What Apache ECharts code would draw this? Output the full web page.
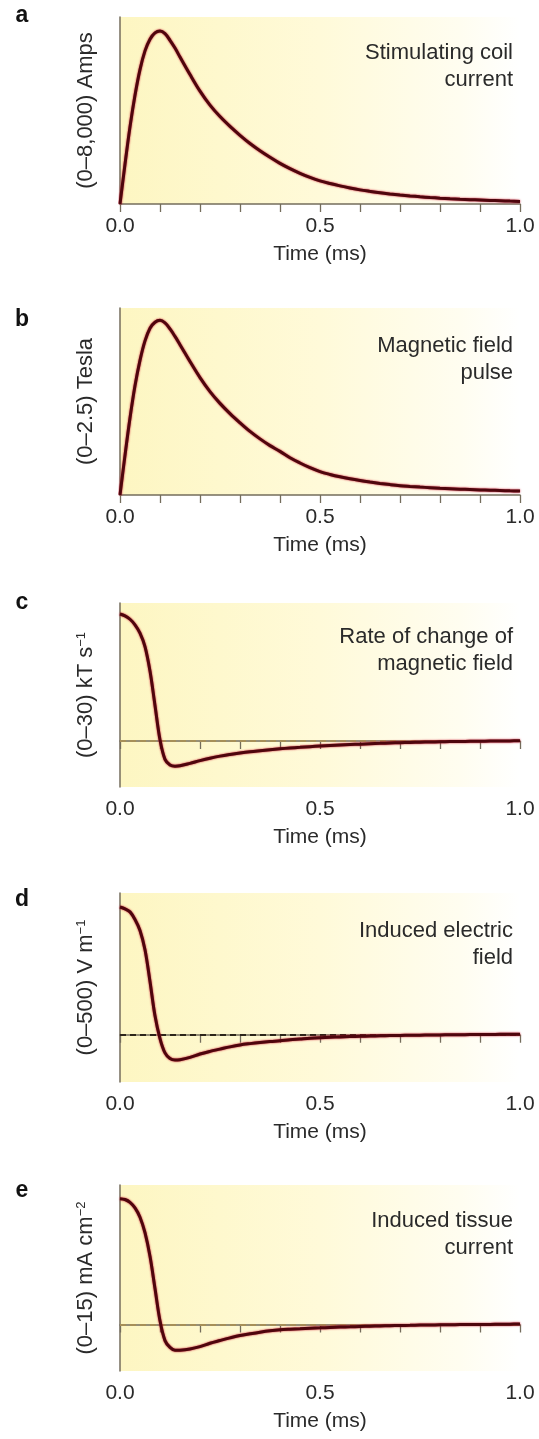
<!DOCTYPE html>
<html>
<head>
<meta charset="utf-8">
<script src="https://cdn.jsdelivr.net/npm/echarts@6/dist/echarts.min.js"></script>
<style>
  html, body { margin: 0; padding: 0; background: #fff; }
  #chart { width: 539px; height: 1439px; }
</style>
</head>
<body>
<div id="chart"></div>
<script>
// time samples (ms), shared by all five traces
const times = [0, 0.0125, 0.025, 0.0375, 0.05, 0.0625, 0.075, 0.0875, 0.1, 0.1125, 0.125, 0.1375, 0.15,
  0.175, 0.2, 0.225, 0.25, 0.275, 0.3, 0.325, 0.35, 0.375, 0.4, 0.425, 0.45, 0.475, 0.5,
  0.525, 0.55, 0.575, 0.6, 0.625, 0.65, 0.675, 0.7, 0.725, 0.75, 0.775, 0.8,
  0.825, 0.85, 0.875, 0.9, 0.925, 0.95, 0.975, 1.0];

// values
const coilCurrent = [0, 1700, 3300, 4650, 5750, 6550, 7050, 7320, 7400, 7290, 7000, 6670, 6290,
  5540, 4830, 4230, 3740, 3320, 2940, 2590, 2280, 2000, 1740, 1515, 1315, 1140, 990,
  875, 775, 685, 605, 540, 480, 430, 385, 345, 310, 278, 250,
  226, 205, 186, 170, 154, 140, 125, 112];
const fieldPulse = [0, 0.53, 1.03, 1.46, 1.8, 2.06, 2.23, 2.31, 2.335, 2.3, 2.22, 2.12, 2.01,
  1.785, 1.57, 1.383, 1.225, 1.088, 0.965, 0.85, 0.75, 0.66, 0.583, 0.498, 0.428, 0.365, 0.313,
  0.275, 0.243, 0.216, 0.193, 0.173, 0.155, 0.139, 0.125, 0.115, 0.106, 0.098, 0.09,
  0.084, 0.078, 0.073, 0.068, 0.064, 0.06, 0.056, 0.053];
const fieldRate = [20.7, 20.4, 19.85, 18.95, 17.6, 15.4, 11.4, 5.8, 0.2, -3.0, -3.9, -4.1, -4.05,
  -3.65, -3.2, -2.8, -2.47, -2.2, -1.96, -1.75, -1.58, -1.42, -1.27, -1.14, -1.03, -0.92, -0.82,
  -0.73, -0.65, -0.58, -0.51, -0.44, -0.38, -0.32, -0.27, -0.23, -0.19, -0.16, -0.13,
  -0.1, -0.08, -0.06, -0.04, -0.02, 0, 0.02, 0.04];
const electricField = [338, 333, 325, 305, 276, 225, 141, 50, -10, -48, -63, -67, -66,
  -60, -51, -44, -38, -32, -27, -23.5, -20.5, -18, -16, -13.5, -11.5, -9.5, -8,
  -6.8, -5.8, -4.9, -4.1, -3.4, -2.8, -2.3, -1.8, -1.4, -1.0, -0.7, -0.4,
  -0.1, 0.2, 0.4, 0.6, 0.8, 1.0, 1.2, 1.4];
const tissueCurrent = [10.15, 10.08, 9.85, 9.4, 8.65, 7.4, 5.5, 2.9, 0.3, -1.3, -1.85, -2.08, -2.07,
  -1.97, -1.78, -1.51, -1.29, -1.08, -0.89, -0.75, -0.62, -0.51, -0.43, -0.38, -0.34, -0.3, -0.27,
  -0.24, -0.21, -0.19, -0.16, -0.14, -0.12, -0.1, -0.08, -0.07, -0.05, -0.04, -0.03,
  -0.02, -0.01, 0, 0, 0.01, 0.02, 0.03, 0.05];

const panelLetters = ['a', 'b', 'c', 'd', 'e'];
const yNames = ['(0–8,000) Amps', '(0–2.5) Tesla', '(0–30) kT s', '(0–500) V m', '(0–15) mA cm'];
const ySups = ['', '', '−1', '−1', '−2'];
const notes = ['Stimulating coil\ncurrent', 'Magnetic field\npulse', 'Rate of change of\nmagnetic field', 'Induced electric\nfield', 'Induced tissue\ncurrent'];
const yRanges = [[0, 8000], [0, 2.5], [-7.5, 22.5], [-125, 375], [-3.75, 11.25]];
const xName = 'Time (ms)';

const panels = [
  { data: coilCurrent, top: 17, height: 187, dash: null },
  { data: fieldPulse, top: 308, height: 187, dash: null },
  { data: fieldRate, top: 603, height: 184, dash: '#a68f58' },
  { data: electricField, top: 893, height: 189, dash: '#2c2519' },
  { data: tissueCurrent, top: 1185, height: 186, dash: '#a68f58' }
];

const FONT = '"Liberation Sans", Arial, sans-serif';
const TEXT = '#2a2a2a';
const AXIS = '#746d5c';

const bg = {
  type: 'linear', x: 0, y: 0, x2: 1, y2: 0,
  colorStops: [
    { offset: 0, color: '#fdf6c2' },
    { offset: 0.5, color: '#fffad9' },
    { offset: 0.85, color: '#fffdf0' },
    { offset: 1, color: '#ffffff' }
  ]
};

const grid = panels.map(p => ({
  left: 120, width: 400, top: p.top, height: p.height,
  show: true, backgroundColor: bg, borderWidth: 0
}));

const xAxis = panels.map((p, i) => ({
  type: 'value', gridIndex: i, min: 0, max: 1, interval: 0.5,
  name: xName, nameLocation: 'middle', nameGap: 40,
  nameTextStyle: { fontSize: 21, fontFamily: FONT, color: TEXT },
  axisLine: { lineStyle: { color: AXIS, width: 1.5 } },
  axisTick: { show: true, length: 8, lineStyle: { color: AXIS, width: 1.3 } },
  minorTick: { show: true, splitNumber: 5, length: 8, lineStyle: { color: AXIS, width: 1.3 } },
  axisLabel: { fontSize: 21, fontFamily: FONT, color: TEXT, margin: 12, formatter: v => v.toFixed(1) },
  splitLine: { show: false }
}));

const yAxis = panels.map((p, i) => ({
  type: 'value', gridIndex: i, min: yRanges[i][0], max: yRanges[i][1],
  name: ySups[i] ? '{m|' + yNames[i] + '}{s|' + ySups[i] + '}' : '{m|' + yNames[i] + '}',
  nameLocation: 'middle', nameGap: 23,
  nameTextStyle: {
    rich: {
      m: { fontSize: 22, fontFamily: FONT, color: TEXT },
      s: { fontSize: 13, fontFamily: FONT, color: TEXT, verticalAlign: 'top', lineHeight: 13 }
    }
  },
  axisLine: { show: true, lineStyle: { color: AXIS, width: 1.5 } },
  axisTick: { show: false },
  axisLabel: { show: false },
  splitLine: { show: false }
}));

const series = panels.map((p, i) => ({
  type: 'line', xAxisIndex: i, yAxisIndex: i,
  data: times.map((t, k) => [t, p.data[k]]),
  smooth: 0.35, symbol: 'none', z: 5,
  lineStyle: { color: '#4e060d', width: 3, shadowColor: '#c8102a', shadowBlur: 2 },
  markLine: p.dash ? {
    silent: true, symbol: ['none', 'none'], label: { show: false }, z: 3,
    lineStyle: { color: p.dash, type: [6, 4], width: 2.2 },
    data: [{ yAxis: 0 }]
  } : undefined
}));

const letterY = [16, 320, 603, 900, 1191];
const noteY = [39, 332, 623, 917, 1207];
const graphic = [];
panelLetters.forEach((l, i) => {
  graphic.push({
    type: 'text', x: 22, y: letterY[i],
    style: { text: l, font: 'bold 23px ' + FONT, fill: '#111', align: 'center', verticalAlign: 'middle' }
  });
  graphic.push({
    type: 'text', x: 513, y: noteY[i],
    style: { text: notes[i], font: '22px ' + FONT, fill: TEXT, align: 'right', verticalAlign: 'top', lineHeight: 27 }
  });
});

const chart = echarts.init(document.getElementById('chart'));
chart.setOption({
  animation: false,
  backgroundColor: '#fff',
  grid, xAxis, yAxis, series, graphic
});
</script>
</body>
</html>
